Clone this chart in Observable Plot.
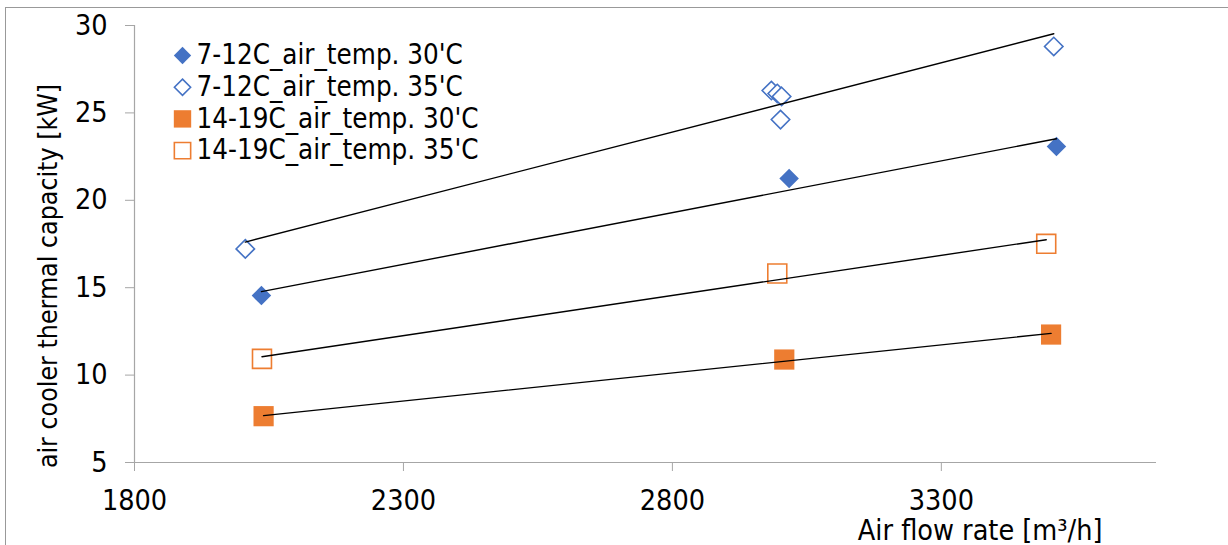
<!DOCTYPE html>
<html>
<head>
<meta charset="utf-8">
<script src="https://cdn.jsdelivr.net/npm/d3@7"></script>
<script src="https://cdn.jsdelivr.net/npm/@observablehq/plot@0.6"></script>
<style>
  html, body { margin: 0; padding: 0; background: white; }
  #wrap { position: relative; width: 1228px; height: 545px; overflow: hidden; }
  #border { position: absolute; left: 5px; top: 7px; width: 1400px; height: 700px; border: 1px solid #999; pointer-events: none; }
  #chart { position: absolute; left: 0; top: 0; }
</style>
</head>
<body>
<div id="wrap"><div id="chart"></div><div id="border"></div></div>
<script>
// ---- data ----
const seriesNames = ["7-12C_air_temp. 30'C", "7-12C_air_temp. 35'C", "14-19C_air_temp. 30'C", "14-19C_air_temp. 35'C"];
const flow_712_30 = [2036, 3017, 3514];
const cap_712_30  = [14.55, 21.25, 23.08];
const flow_712_35 = [2006, 2984, 2995, 3003, 3001, 3509];
const cap_712_35  = [17.22, 26.28, 26.11, 25.94, 24.62, 28.8];
const flow_1419_30 = [2040, 3008, 3504];
const cap_1419_30  = [7.65, 10.89, 12.32];
const flow_1419_35 = [2037, 2995, 3495];
const cap_1419_35  = [10.93, 15.81, 17.51];
const xTicks = [1800, 2300, 2800, 3300];
const yTicks = [5, 10, 15, 20, 25, 30];
const xTitle = "Air flow rate [m³/h]";
const yTitle = "air cooler thermal capacity [kW]";

const BLUE = "#4472C4", ORANGE = "#ED7D31", AXIS = "#a6a6a6";
const FONT = "'DejaVu Sans Condensed', 'DejaVu Sans', sans-serif";
const FS = 28.5;

const toRows = (name, xs, ys) => xs.map((x, i) => ({series: name, x, y: ys[i]}));
const groups = [
  {name: seriesNames[0], rows: toRows(seriesNames[0], flow_712_30, cap_712_30), symbol: "diamond2", filled: true, color: BLUE, r: 8.8, lr: 7.8},
  {name: seriesNames[1], rows: toRows(seriesNames[1], flow_712_35, cap_712_35), symbol: "diamond2", filled: false, color: BLUE, r: 8.3, lr: 7.3},
  {name: seriesNames[2], rows: toRows(seriesNames[2], flow_1419_30, cap_1419_30), symbol: "square", filled: true, color: ORANGE, r: 11.4, lr: 9.8},
  {name: seriesNames[3], rows: toRows(seriesNames[3], flow_1419_35, cap_1419_35), symbol: "square", filled: false, color: ORANGE, r: 10.7, lr: 9.2}
];

const marks = [
  Plot.ruleX([1800], {stroke: AXIS, strokeWidth: 1.2}),
  Plot.ruleY([5], {stroke: AXIS, strokeWidth: 1.2}),
  Plot.axisX(xTicks, {tickSize: 9, tickPadding: 18, stroke: AXIS, fill: "black", fontSize: FS, label: null, tickFormat: d => String(d)}),
  Plot.axisY(yTicks, {tickSize: 9, tickPadding: 18, stroke: AXIS, fill: "black", fontSize: FS, label: null})
];

for (const g of groups) {
  marks.push(Plot.dot(g.rows, {
    x: "x", y: "y", symbol: () => g.symbol, r: g.r,
    fill: g.filled ? g.color : "white",
    stroke: g.filled ? "none" : g.color,
    strokeWidth: 1.6
  }));
}
for (const g of groups) {
  marks.push(Plot.linearRegressionY(g.rows, {x: "x", y: "y", stroke: "black", strokeWidth: 1.4, ci: 0}));
}

// legend
groups.forEach((g, i) => {
  const dy = 30 + i * 31.7;
  marks.push(Plot.dot([g.name], {
    frameAnchor: "top-left", dx: 48, dy, symbol: () => g.symbol, r: g.lr,
    fill: g.filled ? g.color : "white", stroke: g.filled ? "none" : g.color, strokeWidth: 1.6
  }));
  marks.push(Plot.text([g.name], {
    frameAnchor: "top-left", dx: 62, dy, text: d => d, textAnchor: "start", lineAnchor: "middle",
    fontSize: 27.5, fill: "black"
  }));
});

// axis titles
marks.push(Plot.text([xTitle], {frameAnchor: "bottom-right", dx: -54, dy: 77, text: d => d, textAnchor: "end", lineAnchor: "bottom", fontSize: FS, fill: "black"}));
marks.push(Plot.text([yTitle], {frameAnchor: "left", dx: -86, dy: 32, rotate: -90, text: d => d, textAnchor: "middle", lineAnchor: "middle", fontSize: 26.5, fill: "black"}));

const chart = Plot.plot({
  width: 1228,
  height: 545,
  marginLeft: 134,
  marginRight: 72,
  marginTop: 25,
  marginBottom: 83,
  x: {domain: [1800, 3700]},
  y: {domain: [5, 30]},
  symbol: {type: "identity"},
  style: {fontFamily: FONT, fontSize: FS + "px", background: "transparent", color: "black"},
  marks
});
document.getElementById("chart").appendChild(chart);
</script>
</body>
</html>
